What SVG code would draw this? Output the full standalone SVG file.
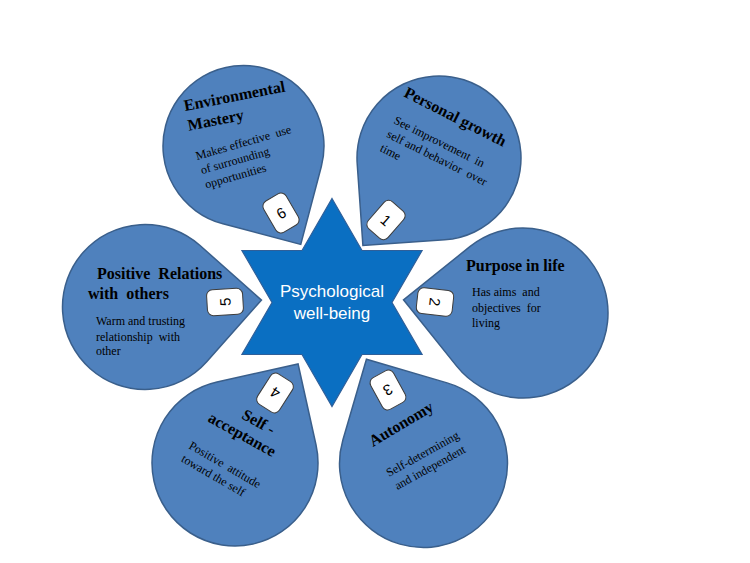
<svg xmlns="http://www.w3.org/2000/svg" width="750" height="563" viewBox="0 0 750 563">
<defs>
<style>
.petal{fill:#4F81BD;stroke:#3A5F8B;stroke-width:1.5}
.star{fill:#0A6FC2;stroke:#2F5F99;stroke-width:1.2}
.box{fill:#ffffff;stroke:#3c3c3c;stroke-width:1}
.num{font-family:"Liberation Sans",Arial,sans-serif;font-size:15px;fill:#000;text-anchor:middle}
.title{font-family:"Liberation Serif","Times New Roman",serif;font-size:16px;font-weight:bold;fill:#000;white-space:pre}
.body{font-family:"Liberation Serif","Times New Roman",serif;font-size:12px;fill:#000;white-space:pre}
.center{font-family:"Liberation Sans",Arial,sans-serif;font-size:17px;fill:#fff;text-anchor:middle}
</style>
</defs>
<rect width="750" height="563" fill="#ffffff"/>
<g id="connectors"></g>

<g id="node-6">
<path class="petal" transform="translate(243.5,146) rotate(104.8)" d="M-80.5,0 A80.5,80.5 0 0 1 0,-80.5 L80.5,-80.5 L80.5,0 A80.5,80.5 0 0 1 0,80.5 A80.5,80.5 0 0 1 -80.5,0Z"/>
<g transform="translate(185,111) rotate(-11)"><text class="title" x="0" y="0">Environmental</text><text class="title" x="0" y="20">Mastery</text></g>
<g transform="translate(197,160) rotate(-16)"><text class="body" x="0" y="0">Makes effective  use</text><text class="body" x="1" y="15">of surrounding</text><text class="body" x="1" y="30">opportunities</text></g>
<g transform="translate(281,213) rotate(-30.2)"><rect class="box" x="-13" y="-18" width="26" height="36" rx="6"/><text class="num" x="0" y="5.5">6</text></g>
</g>

<g id="node-1">
<path class="petal" transform="translate(439,158) rotate(176)" d="M-82,0 A82,82 0 0 1 0,-82 L82,-82 L82,0 A82,82 0 0 1 0,82 A82,82 0 0 1 -82,0Z"/>
<g transform="translate(403,96) rotate(27)"><text class="title" x="0" y="0">Personal growth</text></g>
<g transform="translate(393,123) rotate(26.5)"><text class="body" x="0" y="0">See improvement  in</text><text class="body" x="0" y="15.5">self and behavior  over</text><text class="body" x="0" y="31">time</text></g>
<g transform="translate(386,220) rotate(41)"><rect class="box" x="-13" y="-18" width="26" height="36" rx="6"/><text class="num" x="0" y="5.5">1</text></g>
</g>

<g id="node-2">
<path class="petal" transform="translate(523,313) rotate(231.3)" d="M-85,0 A85,85 0 0 1 0,-85 L85,-85 L85,0 A85,85 0 0 1 0,85 A85,85 0 0 1 -85,0Z"/>
<text class="title" x="466" y="271">Purpose in life</text>
<text class="body" x="472" y="296">Has aims  and</text>
<text class="body" x="472" y="311.5">objectives  for</text>
<text class="body" x="472" y="327">living</text>
<g transform="translate(435,302) rotate(96.3)"><rect class="box" x="-13" y="-18" width="26" height="36" rx="6"/><text class="num" x="0" y="5.5">2</text></g>
</g>

<g id="node-3">
<path class="petal" transform="translate(423.5,463.5) rotate(286.3)" d="M-84,0 A84,84 0 0 1 0,-84 L84,-84 L84,0 A84,84 0 0 1 0,84 A84,84 0 0 1 -84,0Z"/>
<g transform="translate(373,447) rotate(-31)"><text class="title" x="0" y="0">Autonomy</text></g>
<g transform="translate(389,477) rotate(-29)"><text class="body" x="0" y="0">Self-determining</text><text class="body" x="1" y="15.5">and independent</text></g>
<g transform="translate(388,390) rotate(151.3)"><rect class="box" x="-13" y="-18" width="26" height="36" rx="6"/><text class="num" x="0" y="5.5">3</text></g>
</g>

<g id="node-4">
<path class="petal" transform="translate(235,463) rotate(347.5)" d="M-83,0 A83,83 0 0 1 0,-83 L83,-83 L83,0 A83,83 0 0 1 0,83 A83,83 0 0 1 -83,0Z"/>
<g transform="translate(207,421) rotate(29)"><text class="title" x="28" y="-19">Self -</text><text class="title" x="0" y="0">acceptance</text></g>
<g transform="translate(188,448) rotate(30)"><text class="body" x="0" y="0">Positive  attitude</text><text class="body" x="0" y="15">toward the self</text></g>
<g transform="translate(275,393) rotate(212.5)"><rect class="box" x="-13" y="-18" width="26" height="36" rx="6"/><text class="num" x="0" y="5.5">4</text></g>
</g>

<g id="node-5">
<path class="petal" transform="translate(145,307) rotate(41.6)" d="M-82.5,0 A82.5,82.5 0 0 1 0,-82.5 L82.5,-82.5 L82.5,0 A82.5,82.5 0 0 1 0,82.5 A82.5,82.5 0 0 1 -82.5,0Z"/>
<text class="title" x="97" y="279">Positive  Relations</text>
<text class="title" x="88" y="299">with  others</text>
<text class="body" x="96" y="325">Warm and trusting</text>
<text class="body" x="96" y="340.5">relationship  with</text>
<text class="body" x="96" y="355">other</text>
<g transform="translate(225,302) rotate(266.6)"><rect class="box" x="-13" y="-18" width="26" height="36" rx="6"/><text class="num" x="0" y="5.5">5</text></g>
</g>

<g id="center">
<path class="star" d="M332,198.5 L362,250.5 L422.1,250.5 L392,302.5 L422.1,354.5 L362,354.5 L332,406.5 L302,354.5 L241.9,354.5 L272,302.5 L241.9,250.5 L302,250.5 Z"/>
<text class="center" x="332" y="297">Psychological</text>
<text class="center" x="332" y="319">well-being</text>
</g>
</svg>
